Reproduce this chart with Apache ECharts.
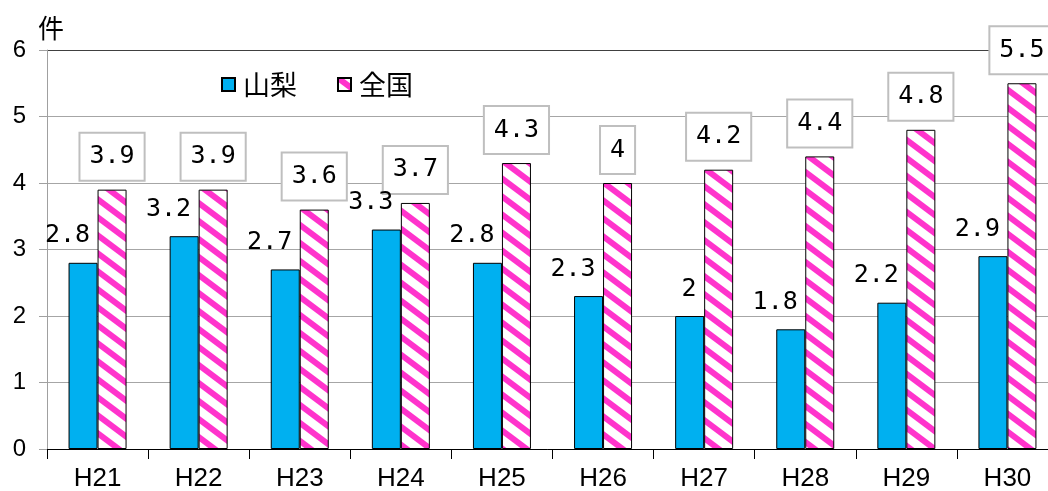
<!DOCTYPE html>
<html>
<head>
<meta charset="utf-8">
<script src="https://cdn.jsdelivr.net/npm/echarts@6/dist/echarts.min.js"></script>
<style>
html,body{margin:0;padding:0;background:#fff;}
#c{width:1048px;height:491px;}
</style>
</head>
<body>
<div id="c"></div>
<script>
const categories = ['H21','H22','H23','H24','H25','H26','H27','H28','H29','H30'];
const yamanashi = [2.8, 3.2, 2.7, 3.3, 2.8, 2.3, 2.0, 1.8, 2.2, 2.9];
const zenkoku = [3.9, 3.9, 3.6, 3.7, 4.3, 4.0, 4.2, 4.4, 4.8, 5.5];
const seriesNames = ['山梨', '全国'];
const yTicks = { min: 0, max: 6, interval: 1 };
const unitLabel = '件';

function makePattern() {
  const w = 24, h = 18;
  const c = document.createElement('canvas');
  c.width = w; c.height = h;
  const ctx = c.getContext('2d');
  ctx.fillStyle = '#ffffff';
  ctx.fillRect(0, 0, w, h);
  ctx.strokeStyle = '#ff33cc';
  ctx.lineWidth = 6;
  for (const k of [-1, 0, 1]) {
    ctx.beginPath();
    ctx.moveTo(-4, (h / w) * -4 + k * h);
    ctx.lineTo(w + 4, (h / w) * (w + 4) + k * h);
    ctx.stroke();
  }
  return c;
}

const chart = echarts.init(document.getElementById('c'), null, { renderer: 'canvas' });
const numFont = '"DejaVu Sans Mono", monospace';
const axisFont = '"Liberation Sans Narrow", "Liberation Sans", Arial, sans-serif';
const cjkFont = '"Noto Sans CJK JP", sans-serif';

chart.setOption({
  animation: false,
  backgroundColor: '#ffffff',
  grid: { left: 47, top: 50, height: 399, width: 1011, outerBoundsMode: 'none', containLabel: false },
  legend: {
    left: 216, top: 66,
    itemWidth: 13, itemHeight: 13, itemGap: 40,
    icon: 'rect',
    data: seriesNames,
    textStyle: { fontFamily: cjkFont, fontSize: 27, color: '#000', padding: [0, 0, 0, 3] }
  },
  xAxis: {
    type: 'category',
    data: categories,
    axisLine: { lineStyle: { color: '#000', width: 1 } },
    axisTick: { show: true, length: 10, alignWithLabel: false, lineStyle: { color: '#000' } },
    axisLabel: { fontFamily: axisFont, fontSize: 26, color: '#000', margin: 17 },
    splitLine: { show: false }
  },
  yAxis: {
    type: 'value',
    min: yTicks.min, max: yTicks.max, interval: yTicks.interval,
    name: unitLabel,
    nameLocation: 'end',
    nameGap: 9,
    nameTextStyle: { fontFamily: cjkFont, fontSize: 26, color: '#000', padding: [0, 0, 0, 8] },
    axisLine: { show: true, lineStyle: { color: '#a0a0a0', width: 1 } },
    axisTick: { show: true, length: 8, lineStyle: { color: '#a0a0a0' } },
    axisLabel: { fontFamily: axisFont, fontSize: 24, color: '#000', margin: 21 },
    splitLine: { show: true, lineStyle: { color: ['#a6a6a6','#a6a6a6','#a6a6a6','#a6a6a6','#a6a6a6','#a6a6a6','#404040'], width: 1 } }
  },
  series: [
    {
      name: seriesNames[0],
      type: 'bar',
      z: 3,
      data: yamanashi,
      barWidth: 29,
      barGap: '0%',
      itemStyle: { color: '#00b0f0', borderColor: '#000', borderWidth: 1 },
      label: {
        show: true, position: 'top', distance: 15, align: 'right', offset: [7, 0],
        fontFamily: numFont, fontSize: 25, lineHeight: 24, color: '#000'
      }
    },
    {
      name: seriesNames[1],
      type: 'bar',
      z: 2,
      data: zenkoku,
      barWidth: 29,
      barGap: '0%',
      itemStyle: { color: { image: makePattern(), repeat: 'repeat' }, borderColor: '#000', borderWidth: 1 },
      label: {
        show: true, position: 'top', distance: 10,
        fontFamily: numFont, fontSize: 25, lineHeight: 24, color: '#000',
        backgroundColor: '#fff', borderColor: '#bfbfbf', borderWidth: 2,
        padding: [11, 9, 11, 9]
      }
    }
  ]
});
</script>
</body>
</html>
